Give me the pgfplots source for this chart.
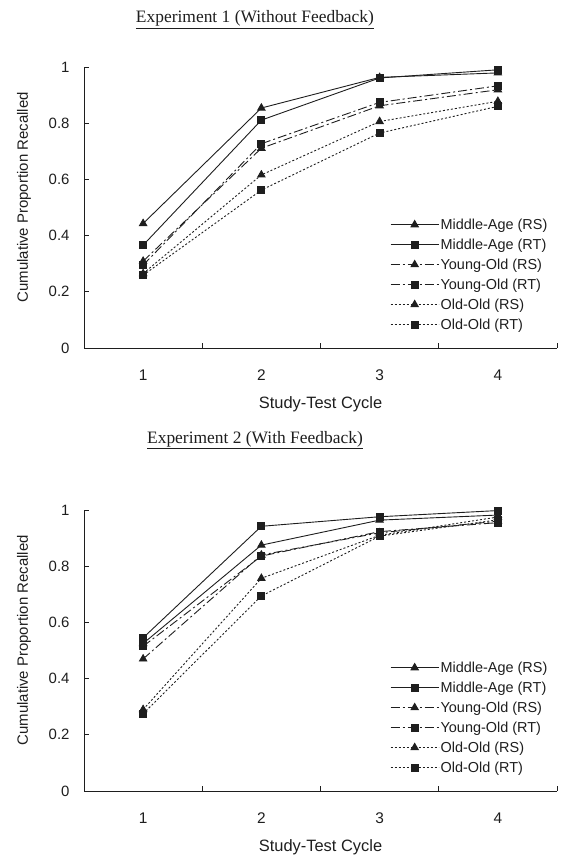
\documentclass[border=0pt]{standalone}
\usepackage{pgfplots}
\pgfplotsset{compat=1.18}
\usepackage{fontspec}
\setmainfont{Liberation Sans}
\newfontfamily\timesfont{Liberation Serif}
\definecolor{ink}{HTML}{1E1E1E}

\pgfplotsset{
  cycleax/.style={
    scale only axis, width=473bp, height=281bp,
    xmin=0.5, xmax=4.5, ymin=0, ymax=1, clip=false,
    axis x line*=bottom, axis y line*=left,
    axis line style={ink, line width=0.8bp, -},
    xtick={1,2,3,4}, minor xtick={1.5,2.5,3.5,4.5},
    every major x tick/.append style={draw=none},
    ytick={0,0.2,0.4,0.6,0.8,1},
    tick align=inside, major tick length=5bp, minor tick length=5bp,
    tick style={ink, line width=0.8bp},
    /pgf/number format/assume math mode=true,
    ticklabel style={text=ink},
    xticklabel style={font=\fontsize{15.5}{17}\selectfont, yshift=-18bp},
    yticklabel style={font=\fontsize{15}{17}\selectfont, xshift=-11bp},
    label style={text=ink},
    xlabel={Study-Test Cycle},
    xlabel style={font=\fontsize{16.5}{18}\selectfont,
      at={(axis description cs:0.5,-0.199)}, anchor=center},
    ylabel={Cumulative Proportion Recalled},
    ylabel style={font=\fontsize{15}{17}\selectfont,
      at={(axis description cs:-0.127,0.536)}, anchor=center},
    title style={font=\timesfont\fontsize{17.5}{19}\selectfont, text=ink, anchor=center},
    legend cell align=left,
    legend style={draw=none, fill=none, inner sep=0pt, row sep=5bp,
      font=\fontsize{14.5}{16}\selectfont, text=ink,
      nodes={inner sep=1.5bp},
      at={(axis description cs:0.647,0.466)}, anchor=north west},
    legend image code/.code={\draw[mark repeat=2,mark phase=2,#1]
      plot coordinates {(0bp,0bp) (24bp,0bp) (48bp,0bp)};},
    every axis plot/.append style={ink, line width=0.9bp, mark options={solid, fill=ink}},
  },
  ra/.style={mark=triangle*, mark size=4.2bp},
  rt/.style={mark=square*, mark size=3.5bp},
  ma/.style={solid},
  yo/.style={dash pattern=on 9bp off 3bp on 2bp off 3bp},
  oo/.style={dash pattern=on 2bp off 2bp},
}

\begin{document}
\begin{tikzpicture}
\useasboundingbox (0bp,0bp) rectangle (561bp,858bp);

% Experiment 1
\begin{axis}[cycleax, at={(84bp,510bp)}, anchor=south west,
  title={\underline{Experiment 1 (Without Feedback)}},
  title style={at={(axis description cs:0.3615,1.148)}}]
\addplot[ma,ra] coordinates {(1,0.443) (2,0.854) (3,0.963) (4,0.979)};
\addlegendentry{Middle-Age (RS)}
\addplot[ma,rt] coordinates {(1,0.366) (2,0.811) (3,0.961) (4,0.990)};
\addlegendentry{Middle-Age (RT)}
\addplot[yo,ra] coordinates {(1,0.309) (2,0.711) (3,0.862) (4,0.919)};
\addlegendentry{Young-Old (RS)}
\addplot[yo,rt] coordinates {(1,0.295) (2,0.727) (3,0.874) (4,0.933)};
\addlegendentry{Young-Old (RT)}
\addplot[oo,ra] coordinates {(1,0.265) (2,0.616) (3,0.806) (4,0.878)};
\addlegendentry{Old-Old (RS)}
\addplot[oo,rt] coordinates {(1,0.259) (2,0.562) (3,0.765) (4,0.860)};
\addlegendentry{Old-Old (RT)}
\end{axis}

% Experiment 2
\begin{axis}[cycleax, at={(84bp,67bp)}, anchor=south west,
  title={\underline{Experiment 2 (With Feedback)}},
  title style={at={(axis description cs:0.3615,1.228)}}]
\addplot[ma,ra] coordinates {(1,0.525) (2,0.875) (3,0.964) (4,0.982)};
\addlegendentry{Middle-Age (RS)}
\addplot[ma,rt] coordinates {(1,0.545) (2,0.942) (3,0.976) (4,0.998)};
\addlegendentry{Middle-Age (RT)}
\addplot[yo,ra] coordinates {(1,0.470) (2,0.840) (3,0.919) (4,0.960)};
\addlegendentry{Young-Old (RS)}
\addplot[yo,rt] coordinates {(1,0.515) (2,0.836) (3,0.923) (4,0.955)};
\addlegendentry{Young-Old (RT)}
\addplot[oo,ra] coordinates {(1,0.290) (2,0.757) (3,0.910) (4,0.975)};
\addlegendentry{Old-Old (RS)}
\addplot[oo,rt] coordinates {(1,0.275) (2,0.694) (3,0.907) (4,0.965)};
\addlegendentry{Old-Old (RT)}
\end{axis}
\end{tikzpicture}
\end{document}
